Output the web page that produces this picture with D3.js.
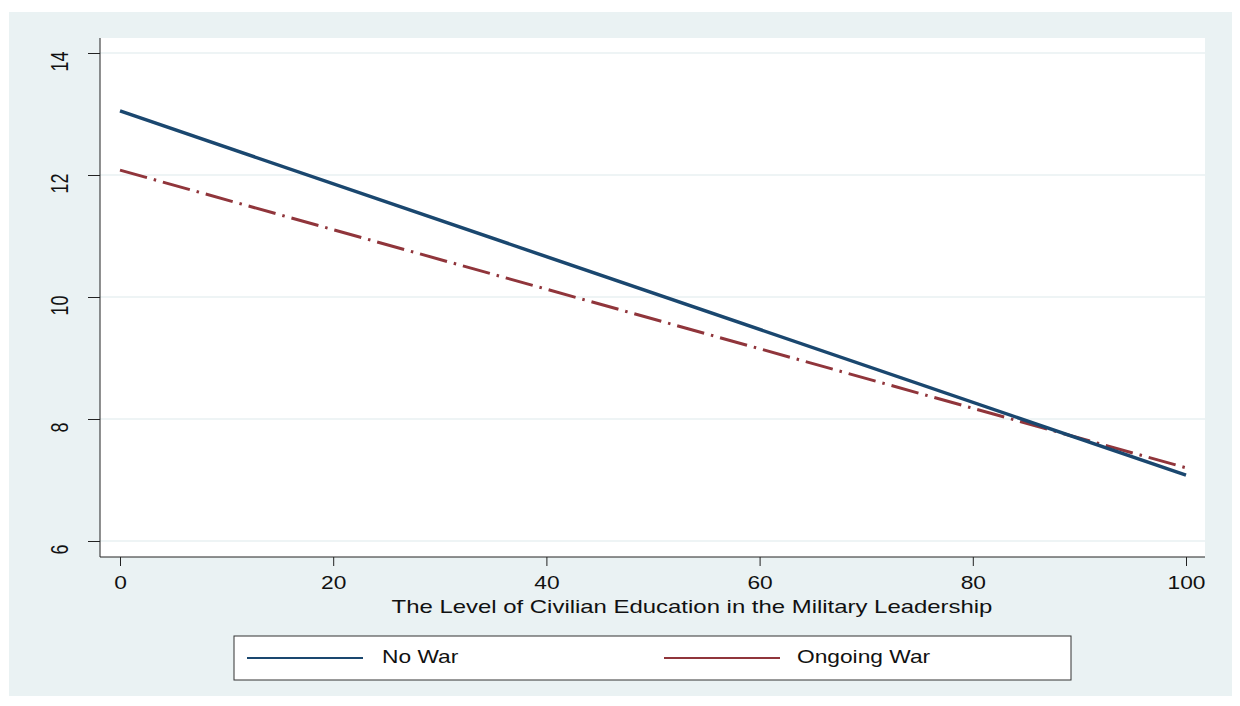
<!DOCTYPE html>
<html><head><meta charset="utf-8">
<script src="https://cdn.jsdelivr.net/npm/d3@7"></script>
<style>body{margin:0;background:#fff;font-family:"Liberation Sans",Arial,sans-serif;}</style>
</head><body>
<svg id="chart" width="1240" height="706"></svg>
<script>
const xValues = [0, 100];
const noWar = [13.05, 7.08];
const ongoingWar = [12.08, 7.2];
const seriesNames = ["No War", "Ongoing War"];
const xTicks = [0, 20, 40, 60, 80, 100];
const yTicks = [6, 8, 10, 12, 14];
const xTitle = "The Level of Civilian Education in the Military Leadership";

const SX = 1.3; // horizontal stretch seen in reference text
const FONT = "Liberation Sans, Arial, sans-serif";
const svg = d3.select("#chart");
svg.append("rect").attr("x",9).attr("y",12).attr("width",1223).attr("height",684).attr("fill","#eaf2f3");
const plot = {l:100, r:1205, t:38, b:557};
svg.append("rect").attr("x",plot.l).attr("y",plot.t).attr("width",plot.r-plot.l).attr("height",plot.b-plot.t).attr("fill","#fff");

const x = d3.scaleLinear().domain([0,100]).range([120,1186]);
const y = d3.scaleLinear().domain([6,14]).range([541,53]);

// gridlines
svg.append("g").selectAll("line").data(yTicks).join("line")
  .attr("x1",plot.l).attr("x2",plot.r).attr("y1",d=>y(d)).attr("y2",d=>y(d))
  .attr("stroke","#e8f0f2").attr("stroke-width",1.5);

// y axis
const yAxis = svg.append("g").attr("transform",`translate(${plot.l},0)`)
  .call(d3.axisLeft(y).tickValues(yTicks).tickSize(12).tickFormat(d3.format("d")));
yAxis.select(".domain").attr("d",`M0,${plot.t}V${plot.b}`).attr("stroke","#222");
yAxis.selectAll(".tick line").attr("stroke","#222");
yAxis.selectAll(".tick text").attr("font-size",18).attr("fill","#111")
  .attr("font-family",FONT)
  .attr("x",0).attr("y",0).attr("dy","0").attr("text-anchor","middle")
  .attr("transform",`translate(-32,8) scale(${SX},1) rotate(-90)`);

// x axis
const xAxis = svg.append("g").attr("transform",`translate(0,${plot.b})`)
  .call(d3.axisBottom(x).tickValues(xTicks).tickSize(9).tickFormat(d3.format("d")));
xAxis.select(".domain").attr("d",`M${plot.l},0H${plot.r}`).attr("stroke","#222");
xAxis.selectAll(".tick line").attr("stroke","#222");
xAxis.selectAll(".tick text").attr("font-size",17.5).attr("fill","#111")
  .attr("font-family",FONT).attr("x",0).attr("y",0).attr("dy","0").attr("text-anchor","middle")
  .attr("transform",`translate(0,32) scale(${SX},1)`);

svg.append("text").attr("transform",`translate(692,613) scale(1.33,1)`).attr("text-anchor","middle")
  .attr("font-family",FONT).attr("font-size",18).attr("fill","#111").text(xTitle);

const line = d3.line().x((d,i)=>x(xValues[i])).y(d=>y(d));
svg.append("path").attr("d",line(ongoingWar)).attr("fill","none")
  .attr("stroke","#90353b").attr("stroke-width",3).attr("stroke-dasharray","28 7 2.5 7");
svg.append("path").attr("d",line(noWar)).attr("fill","none")
  .attr("stroke","#1a476f").attr("stroke-width",3.5);

// legend
svg.append("rect").attr("x",234).attr("y",636).attr("width",837).attr("height",44)
  .attr("fill","#fff").attr("stroke","#333").attr("stroke-width",1);
const leg = [{name:seriesNames[0],c:"#1a476f",x:247,tx:382},{name:seriesNames[1],c:"#90353b",x:664,tx:797}];
leg.forEach(l=>{
  svg.append("line").attr("x1",l.x).attr("x2",l.x+116).attr("y1",658).attr("y2",658)
    .attr("stroke",l.c).attr("stroke-width",2);
  svg.append("text").attr("transform",`translate(${l.tx},663) scale(${SX},1)`)
    .attr("font-family",FONT).attr("font-size",17.5).attr("fill","#111").text(l.name);
});
</script>
</body></html>
